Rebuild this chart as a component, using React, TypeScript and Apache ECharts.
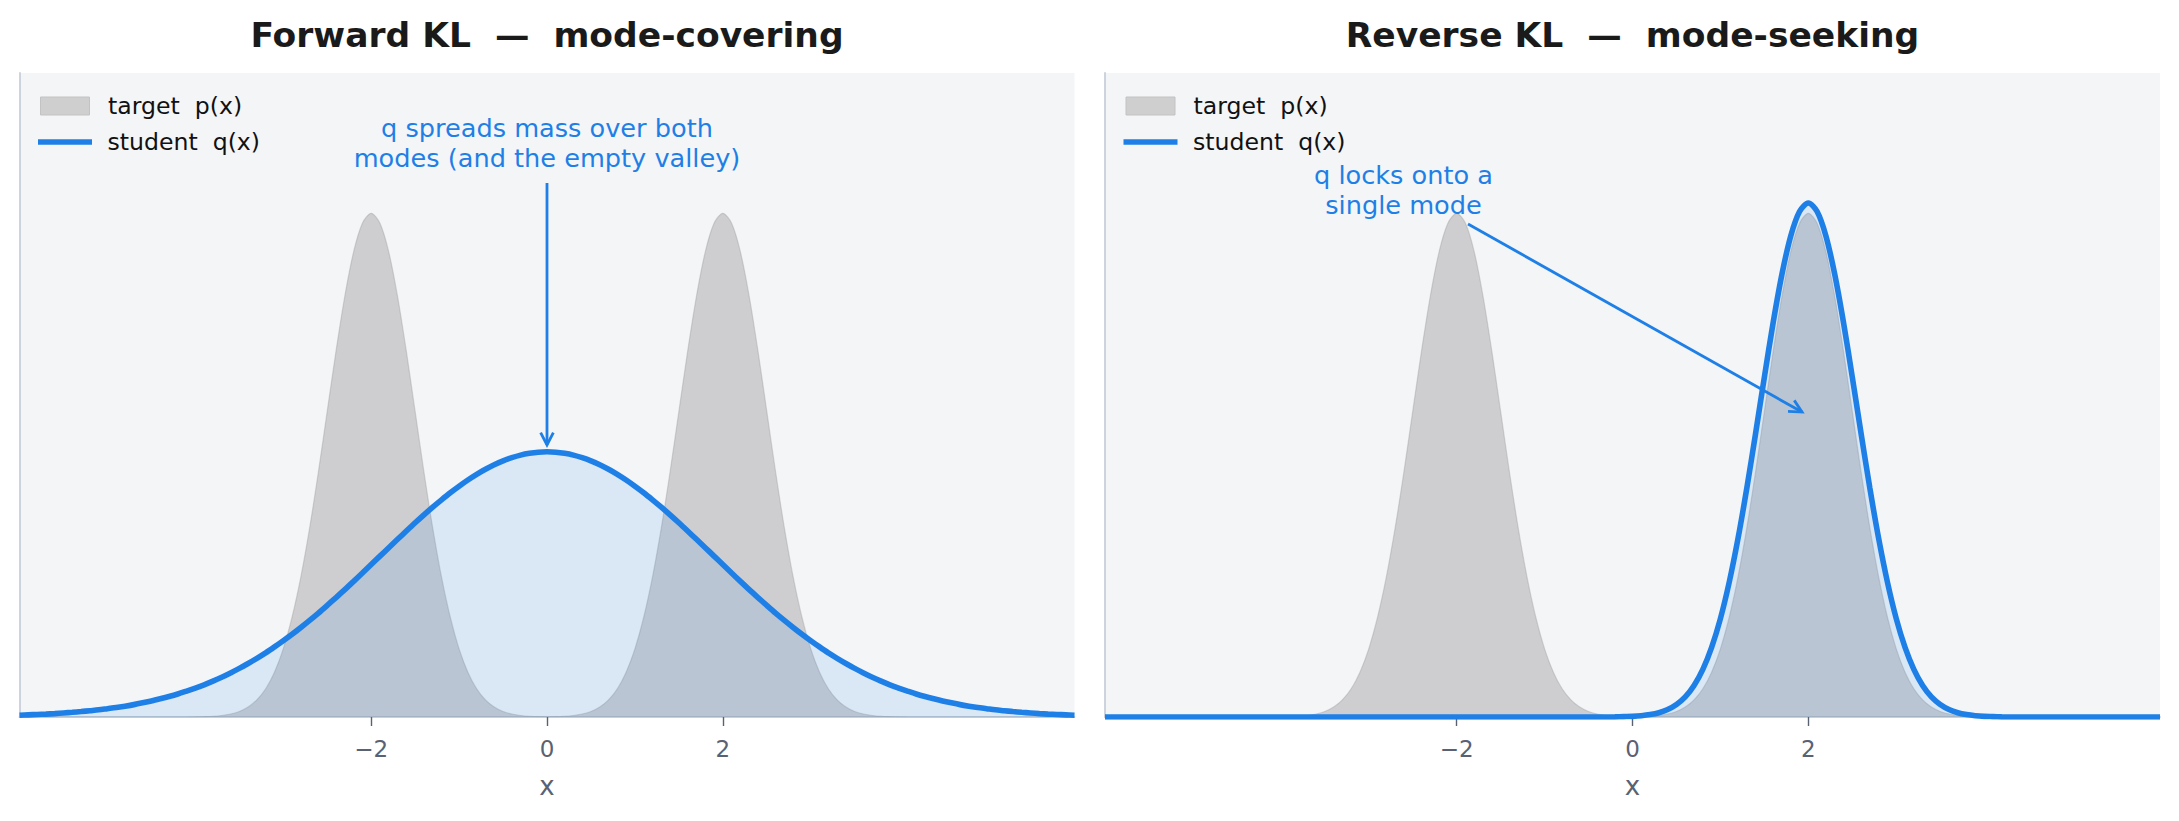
import React, { useEffect, useRef } from 'react';
import * as echarts from 'echarts';

// ---------- data ----------
const xs = [
  -6, -5.9, -5.8, -5.7, -5.6, -5.5, -5.4, -5.3, -5.2, -5.1,
  -5, -4.9, -4.8, -4.7, -4.6, -4.5, -4.4, -4.3, -4.2, -4.1,
  -4, -3.9, -3.8, -3.7, -3.6, -3.5, -3.4, -3.3, -3.2, -3.1,
  -3, -2.9, -2.8, -2.7, -2.6, -2.5, -2.4, -2.3, -2.2, -2.1,
  -2, -1.9, -1.8, -1.7, -1.6, -1.5, -1.4, -1.3, -1.2, -1.1,
  -1, -0.9, -0.8, -0.7, -0.6, -0.5, -0.4, -0.3, -0.2, -0.1,
  0,
  0.1, 0.2, 0.3, 0.4, 0.5, 0.6, 0.7, 0.8, 0.9, 1,
  1.1, 1.2, 1.3, 1.4, 1.5, 1.6, 1.7, 1.8, 1.9, 2,
  2.1, 2.2, 2.3, 2.4, 2.5, 2.6, 2.7, 2.8, 2.9, 3,
  3.1, 3.2, 3.3, 3.4, 3.5, 3.6, 3.7, 3.8, 3.9, 4,
  4.1, 4.2, 4.3, 4.4, 4.5, 4.6, 4.7, 4.8, 4.9, 5,
  5.1, 5.2, 5.3, 5.4, 5.5, 5.6, 5.7, 5.8, 5.9, 6,
];

const targetP = [
  0, 0, 0, 0, 0, 0, 0, 0, 0, 0,
  0, 0, 0, 0, 0, 0, 0, 0, 0, 0,
  0.0001, 0.0003, 0.0006, 0.0012, 0.0024, 0.0044, 0.0079, 0.0136, 0.0224, 0.0355,
  0.054, 0.079, 0.1109, 0.1497, 0.1942, 0.242, 0.2897, 0.3332, 0.3683, 0.391,
  0.3989, 0.391, 0.3683, 0.3332, 0.2897, 0.242, 0.1942, 0.1497, 0.1109, 0.079,
  0.054, 0.0355, 0.0224, 0.0136, 0.0079, 0.0044, 0.0024, 0.0012, 0.0006, 0.0003,
  0.0002,
  0.0003, 0.0006, 0.0012, 0.0024, 0.0044, 0.0079, 0.0136, 0.0224, 0.0355, 0.054,
  0.079, 0.1109, 0.1497, 0.1942, 0.242, 0.2897, 0.3332, 0.3683, 0.391, 0.3989,
  0.391, 0.3683, 0.3332, 0.2897, 0.242, 0.1942, 0.1497, 0.1109, 0.079, 0.054,
  0.0355, 0.0224, 0.0136, 0.0079, 0.0044, 0.0024, 0.0012, 0.0006, 0.0003, 0.0001,
  0, 0, 0, 0, 0, 0, 0, 0, 0, 0,
  0, 0, 0, 0, 0, 0, 0, 0, 0, 0,
];

const studentForward = [
  0.0014, 0.0017, 0.002, 0.0023, 0.0027, 0.0032, 0.0037, 0.0043, 0.005, 0.0057,
  0.0066, 0.0075, 0.0086, 0.0098, 0.0112, 0.0127, 0.0144, 0.0162, 0.0182, 0.0205,
  0.0229, 0.0255, 0.0284, 0.0315, 0.0349, 0.0385, 0.0424, 0.0465, 0.0508, 0.0555,
  0.0604, 0.0655, 0.0709, 0.0765, 0.0823, 0.0884, 0.0946, 0.1009, 0.1074, 0.114,
  0.1207, 0.1274, 0.1341, 0.1407, 0.1473, 0.1538, 0.1601, 0.1662, 0.172, 0.1776,
  0.1828, 0.1877, 0.1922, 0.1962, 0.1998, 0.2029, 0.2054, 0.2074, 0.2088, 0.2097,
  0.21,
  0.2097, 0.2088, 0.2074, 0.2054, 0.2029, 0.1998, 0.1962, 0.1922, 0.1877, 0.1828,
  0.1776, 0.172, 0.1662, 0.1601, 0.1538, 0.1473, 0.1407, 0.1341, 0.1274, 0.1207,
  0.114, 0.1074, 0.1009, 0.0946, 0.0884, 0.0823, 0.0765, 0.0709, 0.0655, 0.0604,
  0.0555, 0.0508, 0.0465, 0.0424, 0.0385, 0.0349, 0.0315, 0.0284, 0.0255, 0.0229,
  0.0205, 0.0182, 0.0162, 0.0144, 0.0127, 0.0112, 0.0098, 0.0086, 0.0075, 0.0066,
  0.0057, 0.005, 0.0043, 0.0037, 0.0032, 0.0027, 0.0023, 0.002, 0.0017, 0.0014,
];

const studentReverse = [
  0, 0, 0, 0, 0, 0, 0, 0, 0, 0,
  0, 0, 0, 0, 0, 0, 0, 0, 0, 0,
  0, 0, 0, 0, 0, 0, 0, 0, 0, 0,
  0, 0, 0, 0, 0, 0, 0, 0, 0, 0,
  0, 0, 0, 0, 0, 0, 0, 0, 0, 0,
  0, 0, 0, 0, 0, 0, 0, 0, 0.0001, 0.0003,
  0.0005,
  0.001, 0.0019, 0.0034, 0.0059, 0.0099, 0.0159, 0.0249, 0.0377, 0.0551, 0.0779,
  0.1067, 0.1413, 0.1811, 0.2245, 0.2692, 0.3124, 0.3507, 0.381, 0.4003, 0.407,
  0.4003, 0.381, 0.3507, 0.3124, 0.2692, 0.2245, 0.1811, 0.1413, 0.1067, 0.0779,
  0.0551, 0.0377, 0.0249, 0.0159, 0.0099, 0.0059, 0.0034, 0.0019, 0.001, 0.0005,
  0.0003, 0.0001, 0, 0, 0, 0, 0, 0, 0, 0,
  0, 0, 0, 0, 0, 0, 0, 0, 0, 0,
];

const tickValues = [-2, 0, 2];
const xRange = [-6, 6];
const yRange = [0, 0.51];
const panelTitles = ['Forward KL  —  mode-covering', 'Reverse KL  —  mode-seeking'];
const targetName = 'target  p(x)';
const studentName = 'student  q(x)';
const axisName = 'x';
const studentCurves = [studentForward, studentReverse];

// annotations (data coordinates)
const notes = [
  {
    text: 'q spreads mass over both\nmodes (and the empty valley)',
    at: [0, 0.4546],
    from: [0, 0.4229],
    to: [0, 0.2154],
  },
  {
    text: 'q locks onto a\nsingle mode',
    at: [-2.605, 0.4177],
    from: [-1.871, 0.3904],
    to: [1.928, 0.2415],
  },
];

// ---------- styling ----------
const FONT = 'DejaVu Sans';
const BLUE = '#1e7fe6';
const SPINE = '#c8d0db';
const AXIS_TEXT = '#596273';
const GRID_LEFT = [19.5, 1105];
const GRID_TOP = 73;
const GRID_W = 1055;
const GRID_H = 644;

function fmtTick(v: number) {
  return v < 0 ? '\u2212' + Math.abs(v) : String(v);
}

function buildOption() {
  const grid = GRID_LEFT.map((left) => ({
    left,
    top: GRID_TOP,
    width: GRID_W,
    height: GRID_H,
    show: true,
    backgroundColor: '#f4f5f7',
    borderWidth: 0,
  }));

  const xAxis = GRID_LEFT.map((_, i) => ({
    type: 'value',
    gridIndex: i,
    min: xRange[0],
    max: xRange[1],
    name: axisName,
    nameLocation: 'middle',
    nameGap: 56,
    nameTextStyle: { fontFamily: FONT, fontSize: 26, color: AXIS_TEXT },
    axisLine: { show: true, onZero: false, lineStyle: { color: SPINE, width: 1.8 } },
    axisTick: {
      show: true,
      customValues: tickValues,
      length: 9,
      lineStyle: { color: AXIS_TEXT, width: 1.4 },
    },
    axisLabel: {
      show: true,
      customValues: tickValues,
      formatter: (v: number) => fmtTick(v),
      fontFamily: FONT,
      fontSize: 23,
      color: AXIS_TEXT,
      margin: 20,
    },
    splitLine: { show: false },
  }));

  const yAxis = GRID_LEFT.map((_, i) => ({
    type: 'value',
    gridIndex: i,
    min: yRange[0],
    max: yRange[1],
    axisLine: { show: true, onZero: false, lineStyle: { color: SPINE, width: 1.8 } },
    axisTick: { show: false },
    axisLabel: { show: false },
    splitLine: { show: false },
  }));

  const series: any[] = [];
  GRID_LEFT.forEach((_, i) => {
    series.push({
      type: 'line',
      name: targetName,
      xAxisIndex: i,
      yAxisIndex: i,
      data: xs.map((x, k) => [x, targetP[k]]),
      smooth: 0.3,
      symbol: 'none',
      lineStyle: { color: 'rgba(150,150,150,0.35)', width: 1.2 },
      areaStyle: { color: 'rgba(160,160,160,0.45)', opacity: 1 },
      z: 2,
    });
    series.push({
      type: 'line',
      name: studentName,
      xAxisIndex: i,
      yAxisIndex: i,
      data: xs.map((x, k) => [x, studentCurves[i][k]]),
      smooth: 0.3,
      symbol: 'none',
      lineStyle: { color: BLUE, width: 5.6 },
      areaStyle: { color: 'rgba(30,128,230,0.12)', opacity: 1 },
      z: 3,
    });
  });

  const legend: any[] = [];
  GRID_LEFT.forEach((gl) => {
    legend.push({
      left: gl + 20.5,
      top: 94,
      padding: 0,
      selectedMode: false,
      itemWidth: 49,
      itemHeight: 18,
      textStyle: { fontFamily: FONT, fontSize: 23.6, color: '#111', lineHeight: 24, padding: [0, 0, 0, 13.5] },
      data: [
        {
          name: targetName,
          icon: 'rect',
          itemStyle: { color: '#cfcfcf', borderColor: '#c3c3c3', borderWidth: 1 },
        },
      ],
    });
    legend.push({
      left: gl + 18.5,
      top: 130,
      padding: 0,
      selectedMode: false,
      itemWidth: 54,
      itemHeight: 5.5,
      textStyle: { fontFamily: FONT, fontSize: 23.6, color: '#111', lineHeight: 24, padding: [0, 0, 0, 10.5] },
      data: [
        {
          name: studentName,
          icon: 'rect',
          itemStyle: { color: BLUE, borderWidth: 0, borderColor: 'transparent' },
        },
      ],
    });
  });

  const title = GRID_LEFT.map((gl, i) => ({
    text: panelTitles[i],
    left: gl + GRID_W / 2,
    top: 17,
    padding: 0,
    textAlign: 'center',
    textStyle: { fontFamily: FONT, fontSize: 34.5, fontWeight: 'bold', color: '#1a1a1a' },
  }));

  return {
    animation: false,
    backgroundColor: '#ffffff',
    textStyle: { fontFamily: FONT },
    title,
    legend,
    grid,
    xAxis,
    yAxis,
    series,
  };
}

function arrowGraphics(p1: number[], p2: number[]) {
  const dx = p2[0] - p1[0];
  const dy = p2[1] - p1[1];
  const len = Math.sqrt(dx * dx + dy * dy) || 1;
  const ux = dx / len;
  const uy = dy / len;
  const L = 14;
  const th = (27 * Math.PI) / 180;
  const c = Math.cos(th);
  const s = Math.sin(th);
  const w1 = [p2[0] - L * (ux * c - uy * s), p2[1] - L * (ux * s + uy * c)];
  const w2 = [p2[0] - L * (ux * c + uy * s), p2[1] - L * (-ux * s + uy * c)];
  return [
    {
      type: 'line',
      shape: { x1: p1[0], y1: p1[1], x2: p2[0], y2: p2[1] },
      style: { stroke: BLUE, lineWidth: 2.8 },
      z: 50,
    },
    {
      type: 'polyline',
      shape: { points: [w1, p2, w2] },
      style: { stroke: BLUE, lineWidth: 2.8, fill: null },
      z: 50,
    },
  ];
}

export default function App() {
  const ref = useRef<HTMLDivElement>(null);
  useEffect(() => {
    if (!ref.current) return;
    const chart = echarts.init(ref.current, undefined, { renderer: 'svg' });
    chart.setOption(buildOption() as any);

    const graphics: any[] = [];
    notes.forEach((n, i) => {
      const at = chart.convertToPixel({ gridIndex: i }, n.at) as number[];
      const from = chart.convertToPixel({ gridIndex: i }, n.from) as number[];
      const to = chart.convertToPixel({ gridIndex: i }, n.to) as number[];
      graphics.push({
        type: 'text',
        x: at[0],
        y: at[1],
        z: 50,
        style: {
          text: n.text,
          fill: BLUE,
          fontFamily: FONT,
          fontSize: 25.6,
          lineHeight: 30,
          align: 'center',
          verticalAlign: 'middle',
        },
      });
      graphics.push(...arrowGraphics(from, to));
    });
    chart.setOption({ graphic: graphics });

    return () => chart.dispose();
  }, []);
  return (
    <div
      ref={ref}
      style={{ position: 'fixed', left: 0, top: 0, width: 2179, height: 821 }}
    />
  );
}
